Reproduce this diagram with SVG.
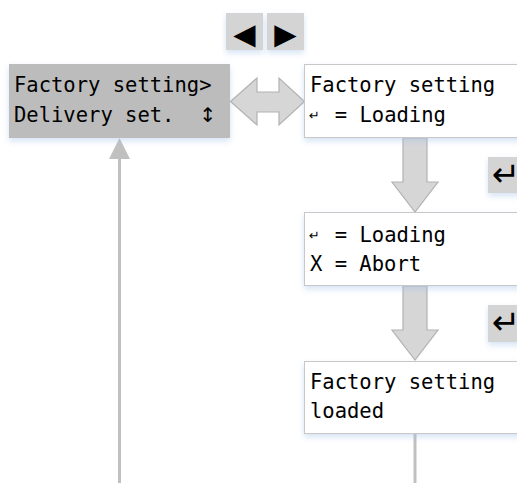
<svg xmlns="http://www.w3.org/2000/svg" width="517" height="483" viewBox="0 0 517 483">
  <defs>
    <filter id="sh" x="-10%" y="-20%" width="120%" height="160%">
      <feDropShadow dx="0" dy="3" stdDeviation="3" flood-color="#9fbfe6" flood-opacity="0.45"/>
    </filter>
    <style>
      .mono { font-family: "DejaVu Sans Mono", "Liberation Mono", monospace; font-size: 20.5px; fill: #000; }
      .small { font-family: "DejaVu Sans", sans-serif; font-size: 13px; fill: #000; }
      .box { fill: #ffffff; stroke: #c8c8c8; stroke-width: 1; }
      .btn { fill: #d4d4d4; }
      .bigarrow { fill: #d6d6d6; stroke: #b2b2b2; stroke-width: 1.2; }
      .line { stroke: #c0c0c0; stroke-width: 3; fill: none; }
      .sym { font-family: "DejaVu Sans", sans-serif; fill: #000; }
    </style>
  </defs>
  <rect width="517" height="483" fill="#ffffff"/>

  <g id="connectors">
    <line class="line" x1="119.5" y1="483" x2="119.5" y2="156"/>
    <polygon points="109,159 130,159 119.5,138" fill="#c0c0c0"/>
    <line class="line" x1="415" y1="434" x2="415" y2="483"/>
    <polygon class="bigarrow" points="230.5,101.5 257,78 257,92 279,92 279,78 304.5,101.5 279,125 279,112 257,112 257,125"/>
    <polygon class="bigarrow" points="403,138 427,138 427,182 438,182 415,212 392,182 403,182"/>
    <polygon class="bigarrow" points="403,286 427,286 427,330 438,330 415,360 392,330 403,330"/>
  </g>

  <g id="nav-buttons">
    <rect class="btn" x="226" y="13" width="37" height="37" filter="url(#sh)"/>
    <rect class="btn" x="267" y="13" width="37" height="37" filter="url(#sh)"/>
    <text class="sym" x="244.5" y="44" font-size="29" text-anchor="middle">◀</text>
    <text class="sym" x="285.5" y="44" font-size="29" text-anchor="middle">▶</text>
  </g>

  <g id="menu-node">
    <rect x="9" y="64" width="221" height="74" fill="#bcbcbc" filter="url(#sh)"/>
    <text class="mono" x="14" y="92">Factory setting&gt;</text>
    <text class="mono" x="14" y="122">Delivery set.</text>
    <text class="sym" x="208" y="122" font-size="20" text-anchor="middle">↕</text>
  </g>

  <g id="factory-node">
    <rect class="box" x="304.5" y="64.5" width="230" height="73" filter="url(#sh)"/>
    <text class="mono" x="310" y="92">Factory setting</text>
    <text class="small" x="309" y="120">↵</text>
    <text class="mono" x="334.8" y="122">= Loading</text>
  </g>

  <g id="enter-btn-1">
    <rect class="btn" x="488" y="157" width="40" height="36" filter="url(#sh)"/>
    <text class="sym" x="492" y="186" font-size="34">↵</text>
  </g>

  <g id="confirm-node">
    <rect class="box" x="304.5" y="212.5" width="230" height="73" filter="url(#sh)"/>
    <text class="small" x="309" y="240">↵</text>
    <text class="mono" x="334.8" y="242">= Loading</text>
    <text class="mono" x="310" y="271">X = Abort</text>
  </g>

  <g id="enter-btn-2">
    <rect class="btn" x="488" y="305" width="40" height="37" filter="url(#sh)"/>
    <text class="sym" x="492" y="334" font-size="34">↵</text>
  </g>

  <g id="loaded-node">
    <rect class="box" x="304.5" y="361.5" width="230" height="72" filter="url(#sh)"/>
    <text class="mono" x="310" y="389">Factory setting</text>
    <text class="mono" x="310" y="418">loaded</text>
  </g>
</svg>
